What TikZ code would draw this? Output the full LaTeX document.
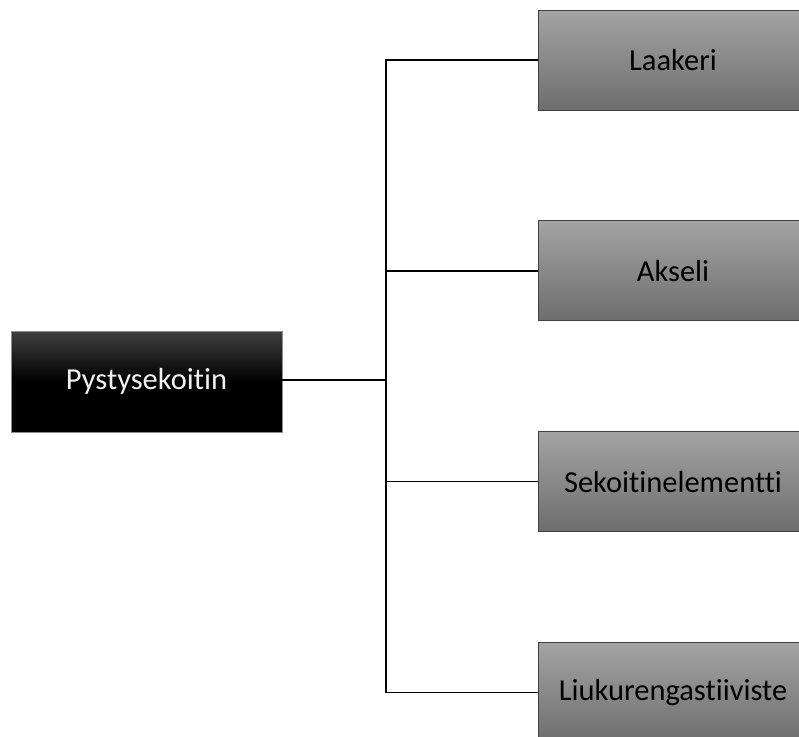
\documentclass[tikz,border=0pt]{standalone}
\usepackage{fontspec}
\setmainfont{Carlito}[Ligatures={NoCommon}]
\usetikzlibrary{positioning}

\begin{document}
\begin{tikzpicture}[x=1pt, y=-1pt,
        part/.style={draw=black!75, line width=0.8pt, top color=black!36, bottom color=black!57,
            minimum width=270pt, minimum height=100pt, inner sep=0pt, font=\fontsize{30.5}{36}\selectfont},
        mixer/.style={draw=black!45, line width=0.8pt, top color=black!75, bottom color=black, middle color=black,
            text=white!94!black, minimum width=271pt, minimum height=101pt, inner sep=0pt, font=\fontsize{30.5}{36}\selectfont},
        link/.style={line width=1.6pt, black}
    ]
        \clip (0,0) rectangle (799,736);
        \useasboundingbox (0,0) rectangle (799,736);
        % Main device
        \node[mixer] (root) at (146.5,381.5) {Pystysekoitin};
        % Components
        \node[part] (n1) at (673,60) {Laakeri};
        \node[part, below=110pt of n1] (n2) {Akseli};
        \node[part, below=110pt of n2] (n3) {Sekoitinelementti};
        \node[part, below=110pt of n3] (n4) {Liukurengastiiviste};
        \coordinate (j) at (386,380);
        \draw[link] (root.east |- j) -- (j);
        \draw[link] (n1.west) -| (j) |- (n4.west);
        \draw[link] (j |- n2.west) -- (n2.west);
        \draw[link] (j |- n3.west) -- (n3.west);
    \end{tikzpicture}
\end{document}
